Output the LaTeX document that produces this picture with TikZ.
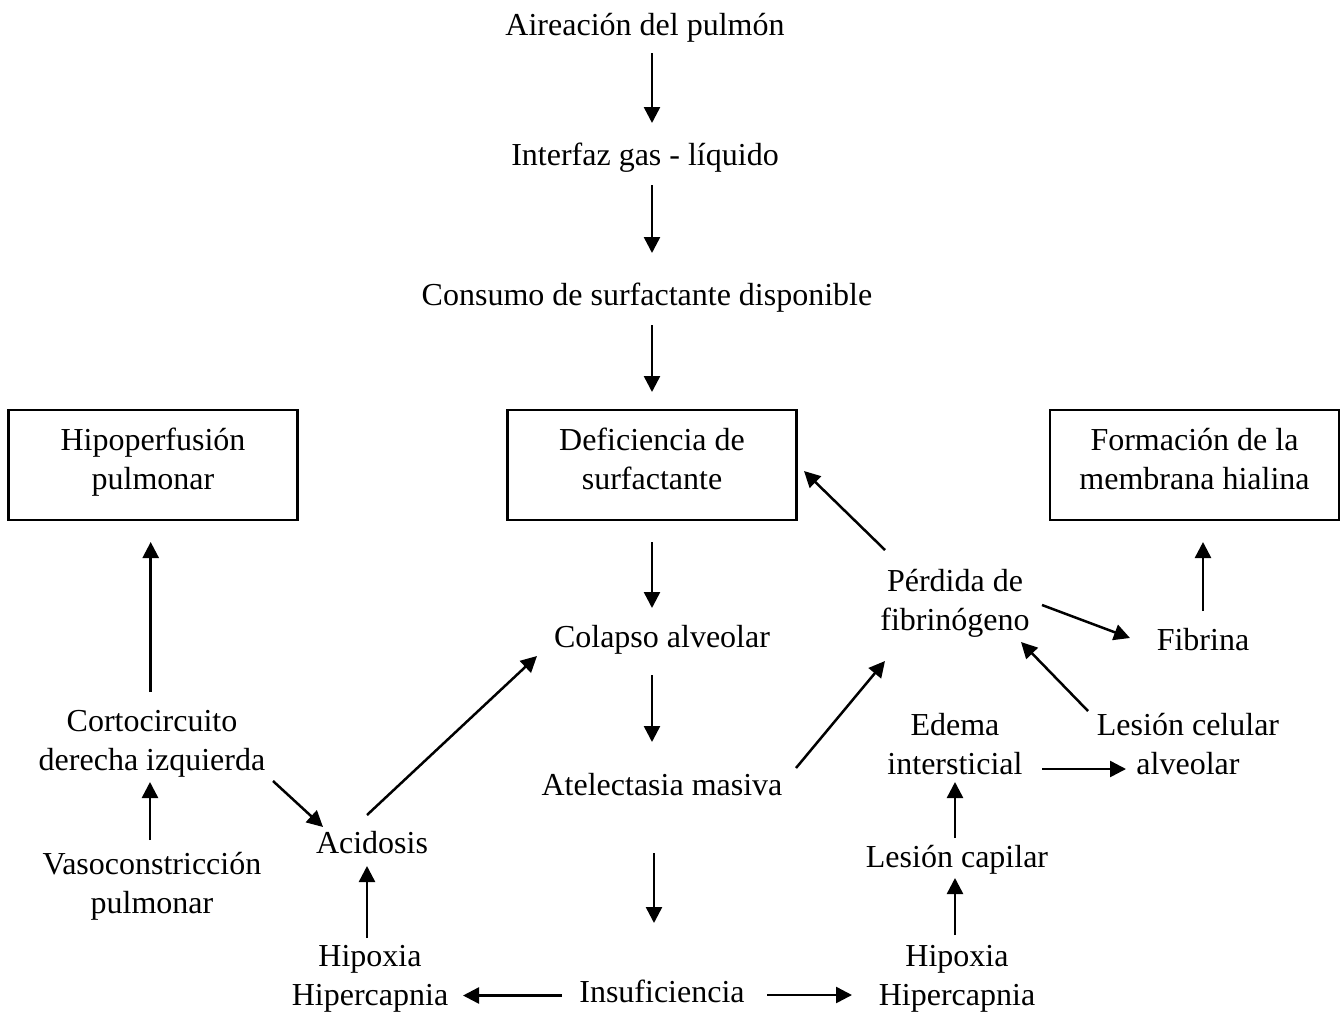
\documentclass[tikz,border=0pt]{standalone}
\usepackage{fontspec}
\setmainfont{Liberation Serif}
\usetikzlibrary{arrows.meta,calc}
\tikzset{
  txt/.style={inner sep=0pt, align=center, font=\fontsize{32}{39}\selectfont},
  boxn/.style={txt, draw, line width=2.6pt, minimum width=289pt, minimum height=110pt},
  arr/.style={line width=2.5pt, -{Triangle[length=16pt,width=16pt]}}
}
\newcommand{\mystrut}{\rule[-11.7pt]{0pt}{45pt}}
\newcommand{\lowpad}{\rule[-23.7pt]{0pt}{23.7pt}}
\begin{document}
\begin{tikzpicture}[x=1pt,y=-1pt]
\useasboundingbox (0,0) rectangle (1341,1012);
% nodes
\node[txt] (air) at (645,25) {\mystrut Aireación del pulmón};
\node[txt] (inter) at (645,155) {\mystrut Interfaz gas - líquido};
\node[txt] (cons) at (647,295) {\mystrut Consumo de surfactante disponible};
\node[boxn] (hip) at (153,465) {\mystrut Hipoperfusión\\\strut pulmonar\lowpad};
\node[boxn] (def) at (652,465) {\mystrut Deficiencia de\\\strut surfactante\lowpad};
\node[boxn] (form) at (1194.5,465) {\mystrut Formación de la\\\strut membrana hialina\lowpad};
\node[txt] (col) at (662,637) {\mystrut Colapso alveolar};
\node[txt] (atel) at (662,785) {\mystrut Atelectasia masiva};
\node[txt] (insuf) at (662,992) {\mystrut Insuficiencia};
\node[txt] (hipL) at (370,975) {\mystrut Hipoxia\\\strut Hipercapnia};
\node[txt] (hipR) at (957,975) {\mystrut Hipoxia\\\strut Hipercapnia};
\node[txt] (acid) at (372,843) {\mystrut Acidosis};
\node[txt] (cort) at (152,740) {\mystrut Cortocircuito\\\strut derecha izquierda};
\node[txt] (vaso) at (152,883) {\mystrut Vasoconstricción\\\strut pulmonar};
\node[txt] (perd) at (955,600) {\mystrut Pérdida de\\\strut fibrinógeno};
\node[txt] (fib) at (1203,640) {\mystrut Fibrina};
\node[txt] (edema) at (955,744) {\mystrut Edema\\\strut intersticial};
\node[txt] (lescel) at (1188,744) {\mystrut Lesión celular\\\strut alveolar};
\node[txt] (lescap) at (957,857) {\mystrut Lesión capilar};
% connectors
\draw[arr] ($(air)+(7,28)$) -- ($(inter)+(7,-32)$);
\draw[arr] ($(inter)+(7,30)$) -- ($(cons)+(5,-42)$);
\draw[arr] ($(cons)+(5,30)$) -- ($(def)+(0,-73)$);
\draw[arr] ($(def)+(0,77)$) -- ($(col)+(-10,-29)$);
\draw[arr] ($(col)+(-10,38)$) -- ($(atel)+(-10,-43)$);
\draw[arr] ($(atel)+(-8,68)$) -- ($(insuf)+(-8,-69)$);
\draw[arr] ($(insuf)+(-100,3.5)$) -- ($(hipL)+(93,20.5)$);
\draw[arr] ($(insuf)+(105,3)$) -- ($(hipR)+(-105,20)$);
\draw[arr] ($(hipL)+(-3,-37)$) -- ($(acid)+(-5,23)$);
\draw[arr] ($(cort)+(121,41)$) -- ($(acid)+(-49,-16)$);
\draw[arr] ($(acid)+(-5,-28)$) -- ($(col)+(-125,19)$);
\draw[arr] ($(vaso)+(-2,-43)$) -- ($(cort)+(-2,42)$);
\draw[arr] ($(cort)+(-1.3,-48)$) -- ($(hip)+(-2.3,77)$);
\draw[arr] ($(atel)+(134,-17)$) -- ($(perd)+(-70,61)$);
\draw[arr] ($(perd)+(-70,-50)$) -- ($(def)+(152,6)$);
\draw[arr] ($(perd)+(87,5)$) -- ($(fib)+(-73,-2)$);
\draw[arr] ($(fib)+(0,-29)$) -- ($(form)+(8.5,77)$);
\draw[arr] ($(lescel)+(-100,-33)$) -- ($(perd)+(66,42)$);
\draw[arr] ($(edema)+(87,25)$) -- ($(lescel)+(-62,25)$);
\draw[arr] ($(lescap)+(-2,-19)$) -- ($(edema)+(0,38)$);
\draw[arr] ($(hipR)+(-2,-40)$) -- ($(lescap)+(-2,21)$);
\end{tikzpicture}
\end{document}
